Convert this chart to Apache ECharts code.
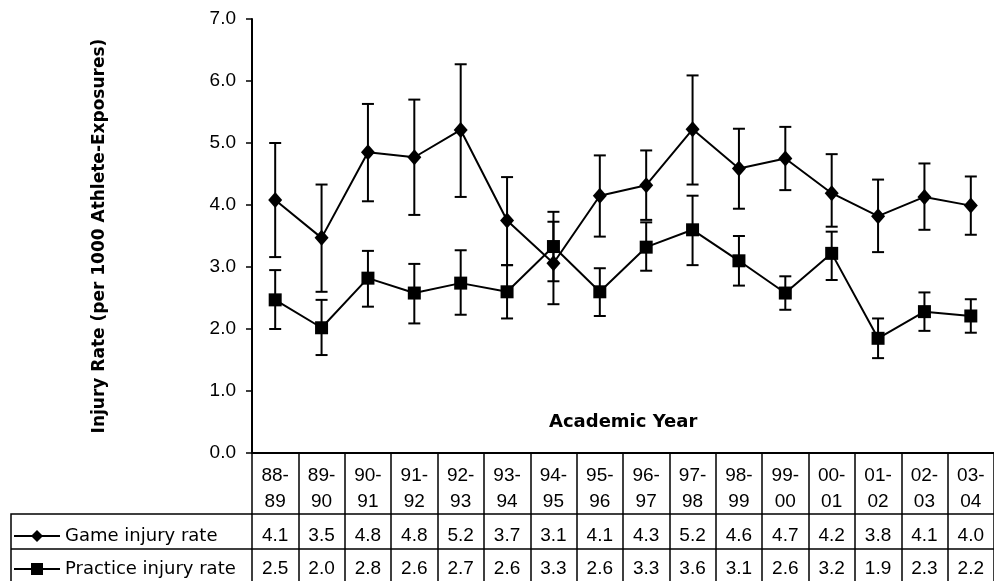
<!DOCTYPE html>
<html>
<head>
<meta charset="utf-8">
<script src="https://cdn.jsdelivr.net/npm/echarts@6/dist/echarts.min.js"></script>
<style>
  html, body { margin: 0; padding: 0; background: #fff; }
  #chart { width: 994px; height: 581px; }
</style>
</head>
<body>
<div id="chart"></div>
<script>
// academic years (columns of the table)
const years = ['88-89', '89-90', '90-91', '91-92', '92-93', '93-94', '94-95', '95-96',
  '96-97', '97-98', '98-99', '99-00', '00-01', '01-02', '02-03', '03-04'];

// plotted rates and error bar ends
const gameRate = [4.08, 3.47, 4.85, 4.77, 5.21, 3.75, 3.06, 4.15, 4.32, 5.22, 4.59, 4.75, 4.19, 3.82, 4.13, 3.99];
const gameLow = [3.16, 2.60, 4.06, 3.84, 4.13, 3.03, 2.40, 3.49, 3.76, 4.33, 3.94, 4.24, 3.65, 3.24, 3.60, 3.52];
const gameHigh = [5.00, 4.33, 5.63, 5.70, 6.27, 4.45, 3.73, 4.80, 4.88, 6.09, 5.23, 5.26, 4.82, 4.41, 4.67, 4.46];

const practiceRate = [2.47, 2.02, 2.82, 2.58, 2.74, 2.60, 3.33, 2.60, 3.32, 3.60, 3.10, 2.58, 3.22, 1.85, 2.28, 2.21];
const practiceLow = [2.00, 1.58, 2.36, 2.09, 2.23, 2.17, 2.77, 2.21, 2.94, 3.03, 2.70, 2.31, 2.79, 1.53, 1.97, 1.94];
const practiceHigh = [2.95, 2.47, 3.26, 3.05, 3.27, 3.03, 3.89, 2.98, 3.72, 4.15, 3.50, 2.85, 3.57, 2.17, 2.59, 2.48];

// values printed in the data table
const gameTable = ['4.1', '3.5', '4.8', '4.8', '5.2', '3.7', '3.1', '4.1', '4.3', '5.2', '4.6', '4.7', '4.2', '3.8', '4.1', '4.0'];
const practiceTable = ['2.5', '2.0', '2.8', '2.6', '2.7', '2.6', '3.3', '2.6', '3.3', '3.6', '3.1', '2.6', '3.2', '1.9', '2.3', '2.2'];

// y axis ticks
const yTicks = [0, 1, 2, 3, 4, 5, 6, 7];

const chart = echarts.init(document.getElementById('chart'));

const numFont = "'Liberation Sans', Arial, sans-serif";
const labelFont = "'DejaVu Sans', sans-serif";

// I-shaped error bars
const errorBars = (low, high) => ({
  type: 'custom',
  xAxisIndex: 0,
  yAxisIndex: 0,
  z: 1,
  silent: true,
  data: years.map((y, i) => [i, low[i], high[i]]),
  renderItem: (params, api) => {
    const lo = api.coord([api.value(0), api.value(1)]);
    const hi = api.coord([api.value(0), api.value(2)]);
    const half = 6;
    const style = { stroke: '#000', lineWidth: 2 };
    return {
      type: 'group',
      children: [
        { type: 'line', shape: { x1: lo[0], y1: lo[1], x2: hi[0], y2: hi[1] }, style },
        { type: 'line', shape: { x1: lo[0] - half, y1: lo[1], x2: lo[0] + half, y2: lo[1] }, style },
        { type: 'line', shape: { x1: hi[0] - half, y1: hi[1], x2: hi[0] + half, y2: hi[1] }, style }
      ]
    };
  }
});

const tableAxis = (values, offset, margin) => ({
  type: 'category',
  position: 'bottom',
  gridIndex: 0,
  offset: offset,
  data: values,
  axisLine: { show: true, lineStyle: { color: '#000', width: 1.5 } },
  axisTick: { show: false },
  axisLabel: {
    interval: 0,
    margin: margin,
    color: '#000',
    fontFamily: numFont,
    fontSize: 19,
    lineHeight: 20
  }
});

const option = {
  animation: false,
  backgroundColor: '#fff',
  grid: { left: 252, top: 19, width: 747, height: 434, containLabel: false },
  title: {
    text: 'Academic Year',
    left: 549,
    top: 413,
    padding: 0,
    textStyle: { fontFamily: labelFont, fontWeight: 'bold', fontSize: 18, color: '#000' }
  },
  legend: {
    orient: 'vertical',
    left: 13,
    top: 526,
    padding: 0,
    itemGap: 13,
    itemWidth: 46,
    itemHeight: 15,
    lineStyle: { width: 2 },
    data: ['Game injury rate', 'Practice injury rate'],
    textStyle: { fontFamily: labelFont, fontSize: 18, color: '#000', lineHeight: 20 }
  },
  xAxis: [
    {
      type: 'category',
      position: 'bottom',
      data: years,
      boundaryGap: true,
      axisLine: { show: true, lineStyle: { color: '#000', width: 2 } },
      axisTick: { show: true, interval: 0, length: 130, inside: false, lineStyle: { color: '#000', width: 1.5 } },
      axisLabel: {
        interval: 0,
        margin: 10,
        color: '#000',
        fontFamily: numFont,
        fontSize: 19,
        lineHeight: 26,
        formatter: v => v.replace('-', '-\n')
      },
      splitLine: { show: false }
    },
    tableAxis(gameTable, 61, 12),
    tableAxis(practiceTable, 96, 10)
  ],
  yAxis: {
    type: 'value',
    min: 0,
    max: 7,
    interval: 1,
    name: 'Injury Rate (per 1000 Athlete-Exposures)',
    nameLocation: 'middle',
    nameRotate: 90,
    nameGap: 144,
    nameTextStyle: { fontFamily: labelFont, fontWeight: 'bold', fontSize: 17, color: '#000' },
    axisLine: { show: true, lineStyle: { color: '#000', width: 2 } },
    axisTick: { show: true, length: 6, inside: false, lineStyle: { color: '#000', width: 1.5 } },
    axisLabel: {
      margin: 16,
      color: '#000',
      fontFamily: numFont,
      fontSize: 19,
      formatter: v => (yTicks.includes(v) ? v.toFixed(1) : '')
    },
    splitLine: { show: false }
  },
  graphic: [
    {
      type: 'polyline',
      silent: true,
      shape: { points: [[252, 514], [11, 514], [11, 600]] },
      style: { stroke: '#000', lineWidth: 1.5, fill: null }
    },
    {
      type: 'line',
      silent: true,
      shape: { x1: 11, y1: 549, x2: 252, y2: 549 },
      style: { stroke: '#000', lineWidth: 1.5 }
    }
  ],
  series: [
    errorBars(gameLow, gameHigh),
    errorBars(practiceLow, practiceHigh),
    {
      name: 'Game injury rate',
      type: 'line',
      xAxisIndex: 0,
      data: gameRate,
      z: 3,
      symbol: 'diamond',
      symbolSize: [14, 16],
      lineStyle: { color: '#000', width: 2 },
      itemStyle: { color: '#000' }
    },
    {
      name: 'Practice injury rate',
      type: 'line',
      xAxisIndex: 0,
      data: practiceRate,
      z: 3,
      symbol: 'rect',
      symbolSize: 13,
      lineStyle: { color: '#000', width: 2 },
      itemStyle: { color: '#000' }
    }
  ]
};

chart.setOption(option);
</script>
</body>
</html>
